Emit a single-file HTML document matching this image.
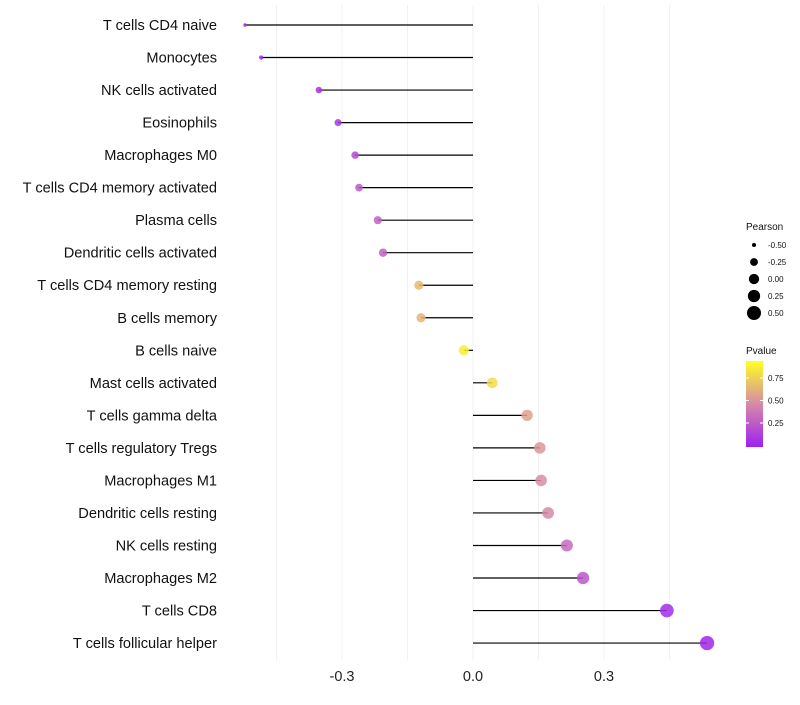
<!DOCTYPE html>
<html><head><meta charset="utf-8"><style>
body{margin:0;background:#fff;font-family:"Liberation Sans",sans-serif}
svg text{font-family:"Liberation Sans",sans-serif}
</style></head><body>
<svg id="chart" width="800" height="700" xmlns="http://www.w3.org/2000/svg">
<defs><linearGradient id="pg" x1="0" y1="1" x2="0" y2="0">
<stop offset="0" stop-color="#a020f0"/><stop offset="0.5" stop-color="#d68aa8"/><stop offset="1" stop-color="#ffff20"/>
</linearGradient></defs>
<g id="grid"></g><g id="marks"></g><g id="labels"></g><g id="legend"></g>
</svg>
<script>
const categories=["T cells CD4 naive","Monocytes","NK cells activated","Eosinophils","Macrophages M0","T cells CD4 memory activated","Plasma cells","Dendritic cells activated","T cells CD4 memory resting","B cells memory","B cells naive","Mast cells activated","T cells gamma delta","T cells regulatory  Tregs","Macrophages M1","Dendritic cells resting","NK cells resting","Macrophages M2","T cells CD8","T cells follicular helper"];
const pearson=[-0.522,-0.485,-0.353,-0.309,-0.270,-0.261,-0.218,-0.206,-0.124,-0.119,-0.021,0.044,0.124,0.153,0.156,0.172,0.215,0.252,0.444,0.536];
const pvalue=[0.01,0.02,0.08,0.12,0.2,0.26,0.3,0.3,0.7,0.68,0.93,0.85,0.6,0.55,0.52,0.5,0.35,0.25,0.05,0.02];
const xTicks=[-0.3,0.0,0.3];
const xMinor=[-0.45,-0.15,0.15,0.45];
const NS="http://www.w3.org/2000/svg";
const X=v=>473+v*436.7;
const Y=i=>25+i*32.53;
const R=v=>Math.sqrt(Math.max(2,4+(v+0.5)*45));
function mk(t,a,p){const e=document.createElementNS(NS,t);for(const k in a)e.setAttribute(k,a[k]);p.appendChild(e);return e;}
function lerp(a,b,t){return a.map((x,i)=>Math.round(x+(b[i]-x)*t));}
function col(p){const s=[[160,32,240],[214,138,168],[255,255,32]];const t=Math.min(1,Math.max(0,p));const c=t<0.5?lerp(s[0],s[1],t*2):lerp(s[1],s[2],(t-0.5)*2);return `rgb(${c})`;}
const g=document.getElementById('grid'),m=document.getElementById('marks'),lb=document.getElementById('labels'),lg=document.getElementById('legend');
xMinor.concat(xTicks).forEach(v=>{const l=mk('line',{x1:X(v),x2:X(v),y1:5,y2:660,stroke:'#f0f0f0','stroke-width':1},g);

});
xTicks.forEach(v=>{const t=mk('text',{x:X(v),y:681,'text-anchor':'middle','font-size':14.5,fill:'#222'},lb);t.textContent=v.toFixed(1);

});
categories.forEach((c,i)=>{
const t=mk('text',{x:217,y:Y(i)+5,'text-anchor':'end','font-size':14.6,fill:'#111'},lb);t.textContent=c;


const l=mk('line',{x1:X(0),x2:X(pearson[i]),y1:Y(i),y2:Y(i),stroke:'#000','stroke-width':1.2},m);


const d=mk('circle',{cx:X(pearson[i]),cy:Y(i),r:R(pearson[i]),fill:col(pvalue[i]),'fill-opacity':0.85},m);


});
let t=mk('text',{x:746,y:230,'font-size':10,fill:'#111'},lg);t.textContent='Pearson';


[-0.5,-0.25,0,0.25,0.5].forEach((v,i)=>{const y=245+i*17;
const c=mk('circle',{cx:754,cy:y,r:R(v),fill:'#000'},lg);


const tt=mk('text',{x:768,y:y+3,'font-size':8,fill:'#111'},lg);tt.textContent=v.toFixed(2);

});
t=mk('text',{x:746,y:354,'font-size':10,fill:'#111'},lg);t.textContent='Pvalue';


const bar=mk('rect',{x:746,y:361,width:17,height:86,fill:'url(#pg)'},lg);


[0.75,0.5,0.25].forEach((v,i)=>{const y=378+i*22.5;
mk('line',{x1:746,x2:749,y1:y,y2:y,stroke:'#fff'},lg);mk('line',{x1:760,x2:763,y1:y,y2:y,stroke:'#fff'},lg);
const tt=mk('text',{x:768,y:y+3,'font-size':8,fill:'#111'},lg);tt.textContent=v.toFixed(2);

});
</script>
</body></html>
